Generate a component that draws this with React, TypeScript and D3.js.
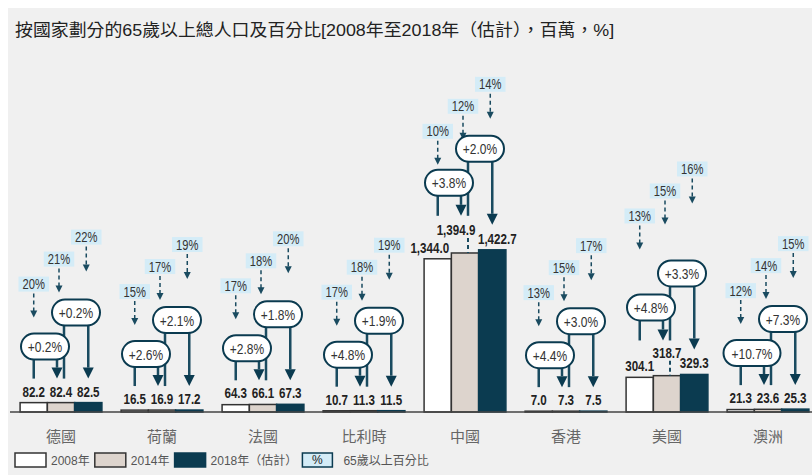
import { useLayoutEffect, useRef } from 'react';
import * as d3 from 'd3';

const countries = ['德國', '荷蘭', '法國', '比利時', '中國', '香港', '美國', '澳洲'];
const years = ['2008年', '2014年', '2018年（估計）'];
const pop2008 = [82.2, 16.5, 64.3, 10.7, 1344.0, 7.0, 304.1, 21.3];
const pop2014 = [82.4, 16.9, 66.1, 11.3, 1394.9, 7.3, 318.7, 23.6];
const pop2018 = [82.5, 17.2, 67.3, 11.5, 1422.7, 7.5, 329.3, 25.3];
const share2008 = [20, 15, 17, 17, 10, 13, 13, 12];
const share2014 = [21, 17, 18, 18, 12, 15, 15, 14];
const share2018 = [22, 19, 20, 19, 14, 17, 16, 15];
const growth0814 = ['+0.2%', '+2.6%', '+2.8%', '+4.8%', '+3.8%', '+4.4%', '+4.8%', '+10.7%'];
const growth1418 = ['+0.2%', '+2.1%', '+1.8%', '+1.9%', '+2.0%', '+3.0%', '+3.3%', '+7.3%'];
const title = '按國家劃分的65歲以上總人口及百分比[2008年至2018年（估計），百萬，%]';
const shareLegend = '65歲以上百分比';

const W = 812;
const H = 475;
const baseY = 412;
const teal = '#0b3b50';
const lineTeal = '#1a4b60';
const barFills = ['#ffffff', '#ddd4cd', '#0b3b50'];
const pctFill = '#d4ecf7';
const sans = "'Liberation Sans',Arial,'Noto Sans CJK TC',sans-serif";
const squeeze = 0.8; // no Arial Narrow here, so squeeze Liberation Sans instead
const titleWidth = 600;

// the US share callouts sit higher in the original
const pctRaise: Record<string, number> = { 美國: 40 };

// rough text width for the legend (12px)
const textW = (s: string) => Array.from(s).reduce((a, ch) => a + (ch.charCodeAt(0) > 255 ? 12 : 6.7), 0);

const head = (xc: number, tip: number, w: number, h: number) =>
  `M${xc - w / 2},${tip - h}L${xc + w / 2},${tip - h}L${xc},${tip}Z`;

const NText = ({ x, y, size, bold, fill, children }: any) => (
  <g transform={`translate(${x},${y}) scale(${squeeze},1)`}>
    <text textAnchor="middle" fontFamily={sans} fontSize={size} fontWeight={bold ? 'bold' : 'normal'} fill={fill}>{children}</text>
  </g>
);

const Pill = ({ cx, cy, label }: { cx: number; cy: number; label: string }) => {
  const w = label.length * 9 + 3;
  return (
    <g>
      <rect x={cx - w / 2} y={cy - 13} width={w} height={26} rx={13} fill="#fff" stroke={teal} strokeWidth={2} />
      <NText x={cx} y={cy + 5.5} size={15} fill="#333">{label}</NText>
    </g>
  );
};

export default function App() {
  const titleRef = useRef<SVGTextElement>(null);

  useLayoutEffect(() => {
    const t = titleRef.current;
    if (!t) return;
    const len = t.getComputedTextLength();
    t.setAttribute('transform', `translate(15,36) scale(${titleWidth / len},1)`);
  }, []);

  const x = d3.scaleBand<string>().domain(countries).range([10.5, 818.5]).paddingInner(0.19).paddingOuter(0.095);
  const xs = d3.scaleBand<number>().domain([0, 1, 2]).range([0, x.bandwidth()]);
  const y = d3.scaleLinear().domain([0, 1500]).range([baseY, baseY - 171]);
  const fmt = d3.format(',.1f');

  const groups = countries.map((c, i) => {
    const vals = [pop2008[i], pop2014[i], pop2018[i]];
    const shares = [share2008[i], share2014[i], share2018[i]];
    const x0 = x(c)!;
    const cx = x0 + x.bandwidth() / 2;
    const bx = (k: number) => x0 + xs(k)! + xs.bandwidth() / 2;
    const vmax = d3.max(vals)!;
    const A = y(vmax);
    const big = vmax >= 100;
    const lift = big ? 11 : 0;
    const p1y = A - 56 - lift;
    const p2y = A - 90 - lift;
    const end1 = big ? A - 34 : A - 24;
    const end2 = A - 24 - (big ? 1 : 0);
    const labels = vals.map(fmt);
    const wide = labels.some((s) => s.length >= 7);
    const labelDx = wide ? [-8, -9, 5] : [0, 0, 0];
    const labelY = vals.map((v, k) => (big ? (k === 1 ? y(v) - 18 : y(v) - 6) : A - 6));
    const raise = pctRaise[c] || 0;
    const boxTop = [126, 151, 173].map((o) => A - o - raise);
    const tips = [85, 110, 131].map((o) => A - o - raise);
    const pctX = [bx(0), bx(1) - 2, bx(2) - 2];
    const hw = 11;
    const hh = 11;

    return (
      <g key={c}>
        {vals.map((v, k) => (
          <rect key={k} x={x0 + xs(k)!} y={y(v)} width={xs.bandwidth()} height={baseY - y(v)}
            fill={barFills[k]} stroke={k === 2 ? teal : '#333'} strokeWidth={1.5} />
        ))}
        {/* percentage callouts */}
        {shares.map((s, k) => {
          const t = `${s}%`;
          const bw = t.length * 6.5 + 11;
          return (
            <g key={'p' + k}>
              <rect x={pctX[k] - bw / 2} y={boxTop[k]} width={bw} height={15} fill={pctFill} />
              <NText x={pctX[k]} y={boxTop[k] + 12.5} size={14} fill="#333">{t}</NText>
              <line x1={pctX[k]} x2={pctX[k]} y1={boxTop[k] + 17} y2={tips[k] - 6} stroke={lineTeal} strokeWidth={1.5} strokeDasharray="4,3" />
              <path d={head(pctX[k], tips[k], 7, 7)} fill={lineTeal} />
            </g>
          );
        })}
        {/* growth pills and their connectors */}
        <line x1={bx(0)} x2={bx(0)} y1={p1y + 13} y2={end1} stroke={lineTeal} strokeWidth={2.5} />
        <line x1={bx(1) - 4} x2={bx(1) - 4} y1={p1y + 13} y2={end1 - hh} stroke={lineTeal} strokeWidth={2.5} />
        <path d={head(bx(1) - 4, end1, hw, hh)} fill={teal} />
        <line x1={bx(1) + 3} x2={bx(1) + 3} y1={p2y + 13} y2={big ? end1 : end2} stroke={lineTeal} strokeWidth={2.5} />
        {big && (
          <line x1={bx(1) + 3} x2={bx(1) + 3} y1={labelY[1] + 3} y2={y(vals[1])} stroke={lineTeal} strokeWidth={2} strokeDasharray="4,3" />
        )}
        <line x1={bx(2)} x2={bx(2)} y1={p2y + 13} y2={end2 - hh} stroke={lineTeal} strokeWidth={2.5} />
        <path d={head(bx(2), end2, hw, hh)} fill={teal} />
        <Pill cx={cx - 16} cy={p1y} label={growth0814[i]} />
        <Pill cx={cx + 15} cy={p2y} label={growth1418[i]} />
        {/* value labels */}
        {labels.map((s, k) => (
          <NText key={'v' + k} x={bx(k) + labelDx[k]} y={labelY[k]} size={14.5} bold fill="#222">{s}</NText>
        ))}
        <text x={cx} y={442} textAnchor="middle" fontFamily={sans} fontSize={15} fill="#666">{c}</text>
      </g>
    );
  });

  // legend laid out left to right
  let lx = 15;
  const legendItems = years.map((yr, k) => {
    const bxPos = lx;
    const tx = bxPos + 36;
    lx = tx + textW(yr) + 5;
    return (
      <g key={yr}>
        <rect x={bxPos} y={453} width={31} height={14} fill={barFills[k]} stroke={k === 2 ? teal : '#333'} strokeWidth={1.5} />
        <text x={tx} y={465} fontFamily={sans} fontSize={12} fill="#555">{yr}</text>
      </g>
    );
  });
  const pctLegendX = lx;

  return (
    <svg width={W} height={H} style={{ position: 'absolute', left: 0, top: 0 }}>
      <rect width={W} height={H} fill="#fff" />
      <rect x={8} y={8} width={W - 8} height={H - 8} fill="#f0f0f0" />
      <text ref={titleRef} transform="translate(15,36)" fontFamily={sans} fontSize={17} fill="#222">{title}</text>
      {groups}
      <line x1={10} x2={W} y1={baseY} y2={baseY} stroke="#444" strokeWidth={1.5} />
      {legendItems}
      <g>
        <rect x={pctLegendX} y={453} width={30} height={14} fill={pctFill} stroke={teal} strokeWidth={1.5} />
        <text x={pctLegendX + 15} y={464} textAnchor="middle" fontFamily={sans} fontSize={12} fill="#222">%</text>
        <text x={pctLegendX + 41} y={465} fontFamily={sans} fontSize={12} fill="#555">{shareLegend}</text>
      </g>
    </svg>
  );
}
